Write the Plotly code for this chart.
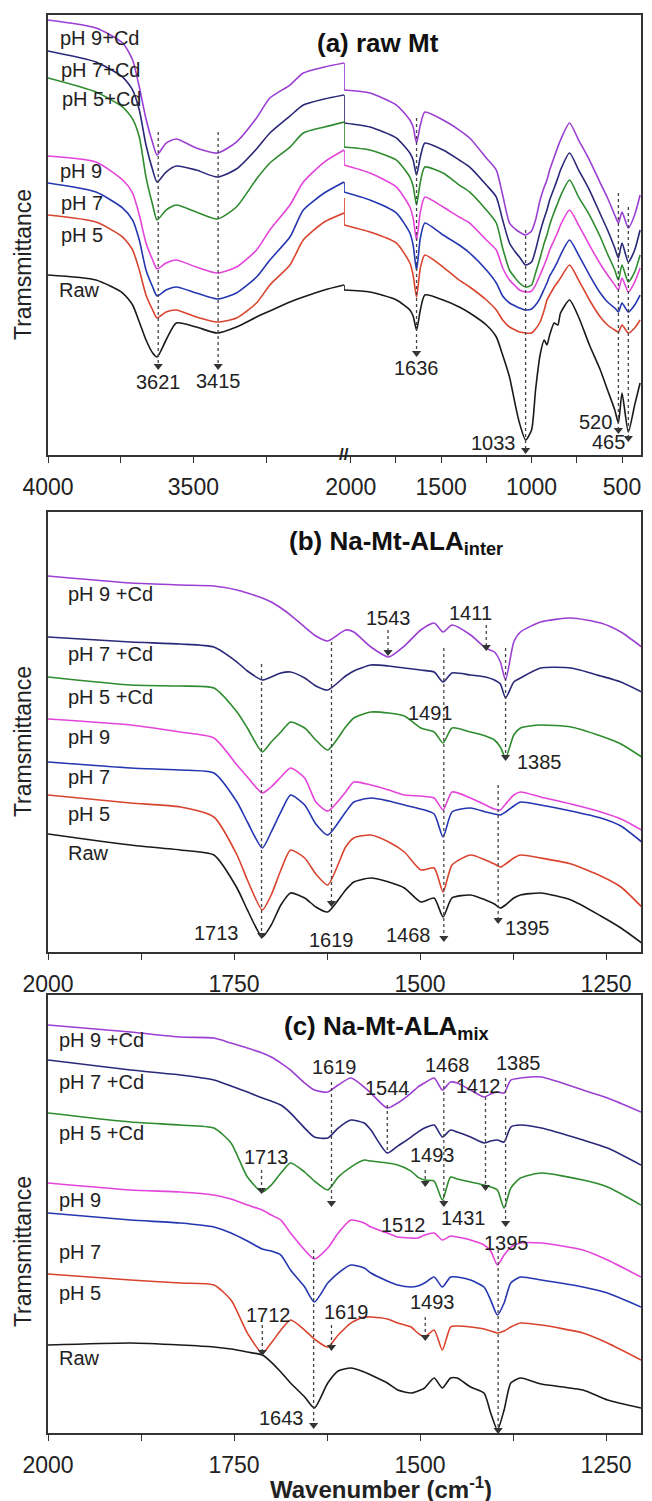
import plotly.graph_objects as go

FONT = "Liberation Sans, Arial, Helvetica, sans-serif"

series_a = ["pH 9+Cd", "pH 7+Cd", "pH 5+Cd", "pH 9", "pH 7", "pH 5", "Raw"]
series_bc = ["pH 9 +Cd", "pH 7 +Cd", "pH 5 +Cd", "pH 9", "pH 7", "pH 5", "Raw"]
colors = ["#9B3FD3", "#2A2878", "#2E8B2E", "#E444DA", "#2436B0", "#D9442F", "#1A1A1A"]

# ---------------- Panel (a) raw Mt : left segment 4000-2982 cm-1 ----------------
a_left_wn = [4000, 3835, 3743, 3709, 3686, 3663, 3640, 3625, 3594, 3559, 3490, 3418,
             3352, 3283, 3237, 3168, 3122, 3050, 2982]
a_left_ph9cd = [435, 427, 412, 395, 368, 336, 312, 300, 312, 316, 307, 302, 313, 337, 357, 370, 382, 388, 392]
a_left_ph7cd = [404, 393, 378, 365, 345, 310, 285, 273, 283, 289, 285, 278, 286, 306, 322, 339, 350, 356, 360]
a_left_ph5cd = [377, 363, 348, 336, 318, 278, 250, 235, 245, 250, 243, 236, 248, 276, 292, 308, 322, 328, 333]
a_left_ph9 = [299, 293, 275, 262, 240, 212, 195, 186, 192, 195, 188, 182, 188, 205, 225, 250, 273, 293, 305]
a_left_ph7 = [272, 263, 247, 235, 215, 185, 168, 159, 165, 168, 162, 156, 162, 178, 195, 218, 245, 262, 273]
a_left_ph5 = [240, 233, 218, 205, 185, 160, 145, 137, 143, 145, 138, 133, 137, 152, 170, 190, 215, 233, 242]
a_left_raw = [180, 175, 162, 150, 133, 115, 102, 98, 115, 132, 128, 122, 128, 138, 144, 153, 158, 165, 170]

# ---------------- Panel (a) right segment 2037-395 cm-1 ----------------
a_right_wn = [2037, 1894, 1747, 1673, 1655, 1636, 1615, 1590, 1489, 1400, 1342, 1250, 1195, 1160,
              1122, 1090, 1067, 1033, 1000, 978, 953, 930, 915, 900, 875, 855, 840, 790, 740,
              680, 620, 580, 540, 520, 500, 465, 430, 400]
a_right_ph9cd = [365, 362, 350, 335, 328, 312, 330, 343, 335, 325, 317, 297, 285, 260, 232, 226, 223, 220,
                 224, 235, 255, 268, 275, 285, 298, 308, 315, 332, 315, 295, 272, 257, 240, 232, 243, 227, 240, 260]
a_right_ph7cd = [332, 328, 317, 302, 295, 280, 298, 312, 305, 295, 288, 270, 258, 235, 212, 203, 198, 190,
                 193, 205, 223, 237, 245, 255, 267, 277, 285, 302, 285, 265, 241, 225, 207, 197, 212, 193, 205, 225]
a_right_ph5cd = [308, 305, 295, 278, 269, 250, 273, 288, 282, 270, 263, 245, 232, 207, 185, 177, 172, 168,
                 170, 182, 197, 212, 220, 230, 243, 252, 259, 275, 258, 240, 218, 201, 185, 175, 190, 173, 183, 200]
a_right_ph9 = [290, 282, 268, 248, 237, 215, 243, 258, 248, 238, 232, 215, 205, 187, 175, 169, 165, 163,
               164, 170, 180, 190, 197, 205, 215, 223, 230, 245, 230, 210, 191, 180, 170, 165, 177, 163, 173, 187]
a_right_ph7 = [263, 255, 242, 222, 210, 185, 217, 232, 220, 210, 202, 185, 172, 159, 152, 149, 147, 145,
               146, 150, 157, 166, 172, 179, 187, 194, 200, 215, 200, 180, 162, 153, 147, 143, 152, 143, 150, 160]
a_right_ph5 = [230, 223, 212, 192, 180, 158, 187, 200, 188, 175, 168, 155, 145, 135, 128, 125, 123, 122,
               122, 126, 133, 145, 155, 160, 168, 173, 177, 190, 175, 155, 138, 130, 125, 123, 130, 122, 127, 135]
a_right_raw = [165, 163, 155, 145, 139, 125, 145, 160, 155, 148, 142, 130, 118, 100, 78, 50, 32, 15,
               25, 65, 100, 115, 110, 120, 132, 130, 142, 155, 138, 110, 85, 65, 45, 32, 62, 23, 50, 72]
# highest point reached by each curve at the axis break (pH 5 shows a small spike)
a_break_peak = [392, 360, 333, 305, 273, 257, 170]

# ---------------- Panel (b) Na-Mt-ALA inter ----------------
b_wn = [2000, 1889, 1822, 1777, 1746, 1732, 1712, 1700, 1687, 1674, 1655, 1640, 1624, 1600, 1589,
        1566, 1542, 1521, 1499, 1481, 1469, 1457, 1432, 1412, 1400, 1392, 1385, 1374, 1365, 1338,
        1297, 1257, 1230, 1202]
b_ph9cd = [376, 369, 367, 366, 362, 359, 354, 350, 344, 337, 325, 316, 311, 322, 320, 305, 295, 306,
           322, 329, 320, 327, 317, 304, 300, 290, 272, 310, 320, 330, 334, 329, 320, 305]
b_ph7cd = [315, 310, 308, 305, 290, 281, 272, 275, 279, 280, 274, 266, 262, 276, 281, 287, 286, 284,
           282, 280, 270, 279, 277, 275, 272, 268, 254, 270, 274, 284, 284, 276, 270, 260]
b_ph5cd = [275, 267, 266, 264, 240, 224, 200, 210, 220, 230, 224, 212, 202, 225, 234, 240, 239, 236,
           224, 220, 209, 224, 220, 216, 212, 205, 194, 217, 224, 227, 225, 216, 208, 195]
b_ph9 = [233, 227, 220, 214, 187, 175, 159, 165, 175, 184, 174, 150, 141, 160, 170, 167, 162, 157,
         156, 154, 142, 160, 154, 147, 143, 142, 148, 157, 160, 155, 148, 140, 133, 122]
b_ph7 = [190, 184, 182, 179, 150, 130, 104, 120, 140, 157, 147, 128, 117, 140, 150, 154, 151, 147,
         143, 138, 115, 140, 144, 140, 138, 137, 140, 146, 150, 147, 141, 134, 126, 110]
b_ph5 = [157, 149, 145, 135, 97, 72, 42, 57, 82, 102, 94, 78, 67, 105, 114, 117, 110, 100,
         82, 84, 60, 87, 97, 92, 88, 85, 88, 94, 97, 94, 88, 76, 65, 45]
b_raw = [118, 107, 102, 97, 64, 42, 15, 27, 47, 59, 54, 45, 40, 62, 70, 74, 70, 64,
         50, 54, 35, 54, 57, 52, 48, 44, 47, 54, 57, 59, 52, 36, 24, 9]

# ---------------- Panel (c) Na-Mt-ALA mix ----------------
c_wn = [2000, 1889, 1822, 1777, 1754, 1732, 1712, 1700, 1687, 1674, 1655, 1642, 1624, 1610, 1593,
        1575, 1566, 1544, 1530, 1512, 1503, 1494, 1481, 1470, 1459, 1450, 1432, 1414, 1405, 1396,
        1387, 1378, 1365, 1337, 1281, 1248, 1203]
c_ph9cd = [408, 401, 396, 395, 390, 385, 380, 376, 370, 363, 350, 343, 341, 348, 355, 346, 340, 325,
           330, 340, 346, 350, 355, 343, 351, 350, 343, 336, 339, 341, 340, 353, 355, 356, 343, 335, 321]
c_ph7cd = [373, 363, 358, 353, 347, 341, 335, 332, 328, 320, 305, 296, 295, 305, 313, 310, 303, 280,
           287, 296, 301, 305, 308, 296, 303, 301, 296, 290, 292, 293, 291, 306, 308, 305, 293, 285, 268]
c_ph5cd = [320, 311, 308, 305, 290, 256, 241, 248, 260, 270, 261, 252, 243, 256, 266, 273, 272, 270,
           268, 262, 256, 253, 252, 233, 256, 254, 251, 248, 246, 243, 225, 245, 255, 260, 253, 246, 228]
c_ph9 = [250, 243, 241, 238, 234, 228, 223, 218, 213, 200, 183, 174, 185, 200, 213, 210, 206, 200,
         196, 195, 195, 198, 200, 193, 197, 196, 193, 188, 182, 168, 178, 186, 190, 190, 183, 173, 156]
c_ph7 = [220, 213, 210, 206, 200, 192, 184, 182, 178, 163, 146, 131, 150, 160, 168, 165, 160, 152,
         148, 146, 147, 150, 156, 146, 156, 156, 153, 146, 133, 118, 130, 150, 156, 153, 146, 140, 126]
c_ph5 = [159, 153, 150, 148, 133, 100, 80, 90, 103, 113, 103, 94, 86, 98, 110, 116, 116, 114,
         110, 106, 100, 96, 103, 83, 106, 107, 106, 104, 102, 100, 102, 106, 110, 108, 100, 90, 73]
c_raw = [88, 90, 88, 86, 84, 81, 78, 71, 61, 50, 36, 25, 50, 62, 65, 61, 58, 50,
         43, 40, 42, 45, 55, 45, 55, 55, 46, 40, 20, 3, 23, 50, 55, 49, 43, 33, 25]

# ---------------- Peak markers: (wavenumber, line top, arrow tip, show head) ----------------
a_left_marks = [(3621, 323, 89, True), (3415, 323, 89, True)]
a_right_marks = [(1636, 337, 102, True), (1033, 225, 5, True), (520, 262, 25, True), (465, 248, 17, True)]
b_marks = [(1713, 288, 17, True), (1619, 310, 49, True), (1468, 304, 14, True), (1395, 167, 32, True),
           (1385, 304, 195, True), (1543, 322, 300, True), (1411, 327, 305, True)]
c_marks = [(1619, 351, 230, True), (1544, 328, 281, False), (1468, 353, 230, True), (1412, 336, 246, True),
           (1385, 355, 210, True), (1493, 263, 250, True), (1713, 263, 243, True), (1395, 183, 3, True),
           (1643, 183, 8, True), (1712, 108, 81, True), (1619, 108, 86, True), (1493, 116, 96, True)]

# Peak labels: (text, wavenumber, transmittance, anchor)
a_left_labels = [("3621", 3621, 73, "center"), ("3415", 3415, 74, "center")]
a_right_labels = [("1636", 1636, 87, "center"), ("1033", 1077, 12, "right"),
                  ("520", 542, 33, "right"), ("465", 471, 13, "right")]
b_labels = [("1713", 1740, 19, "right"), ("1619", 1619, 12, "center"), ("1468", 1482, 17, "right"),
            ("1395", 1389, 24, "left"), ("1385", 1373, 190, "left"), ("1543", 1543, 334, "center"),
            ("1411", 1432, 339, "center"), ("1491", 1486, 239, "center")]
c_labels = [("1619", 1615, 366, "center"), ("1544", 1544, 345, "center"), ("1468", 1463, 368, "center"),
            ("1412", 1421, 347, "center"), ("1385", 1367, 370, "center"), ("1493", 1483, 278, "center"),
            ("1713", 1707, 276, "center"), ("1512", 1522, 208, "center"), ("1431", 1442, 215, "center"),
            ("1395", 1384, 190, "center"), ("1643", 1686, 15, "center"), ("1712", 1704, 118, "center"),
            ("1619", 1599, 121, "center"), ("1493", 1483, 131, "center")]

# Series name labels (wavenumber of left edge of text, transmittance)
a_name_wn = [3966, 3962, 3959, 3966, 3963, 3963, 3969]
a_name_t = [417, 385, 356, 284, 252, 220, 165]
b_name_wn = 1976
b_name_t = [358, 298, 255, 215, 175, 138, 99]
c_name_wn = 1988
c_name_t = [393, 351, 300, 233, 181, 140, 75]

a_left = [a_left_ph9cd, a_left_ph7cd, a_left_ph5cd, a_left_ph9, a_left_ph7, a_left_ph5, a_left_raw]
a_right = [a_right_ph9cd, a_right_ph7cd, a_right_ph5cd, a_right_ph9, a_right_ph7, a_right_ph5, a_right_raw]
b_all = [b_ph9cd, b_ph7cd, b_ph5cd, b_ph9, b_ph7, b_ph5, b_raw]
c_all = [c_ph9cd, c_ph7cd, c_ph5cd, c_ph9, c_ph7, c_ph5, c_raw]

fig = go.Figure()
LW = 1.6

def curve(x, y, color, xa, ya, shape="spline"):
    fig.add_trace(go.Scatter(x=x, y=y, mode="lines", xaxis=xa, yaxis=ya,
                             line=dict(color=color, width=LW, shape=shape, smoothing=0.6),
                             showlegend=False, hoverinfo="skip"))

for i, col in enumerate(colors):
    curve(a_left_wn, a_left[i], col, "x", "y")
    curve(a_right_wn, a_right[i], col, "x2", "y2")
    curve([a_right_wn[0]] * 3, [a_left[i][-1], a_break_peak[i], a_right[i][0]], col, "x2", "y2", "linear")
    curve(b_wn, b_all[i], col, "x3", "y3")
    curve(c_wn, c_all[i], col, "x4", "y4")

shapes = []
annotations = []
tip_groups = {}

def add_marks(marks, xa, ya):
    for wn, top, tip, head in marks:
        shapes.append(dict(type="line", xref=xa, yref=ya, x0=wn, x1=wn, y0=top, y1=tip,
                           line=dict(color="#444", width=1.3, dash="dot")))
        if head:
            tip_groups.setdefault((xa, ya), ([], []))
            tip_groups[(xa, ya)][0].append(wn)
            tip_groups[(xa, ya)][1].append(tip)

add_marks(a_left_marks, "x", "y")
add_marks(a_right_marks, "x2", "y2")
add_marks(b_marks, "x3", "y3")
add_marks(c_marks, "x4", "y4")

for (xa, ya), (xs, ys) in tip_groups.items():
    fig.add_trace(go.Scatter(x=xs, y=ys, mode="markers", xaxis=xa, yaxis=ya, cliponaxis=False,
                             marker=dict(symbol="triangle-down", size=8, color="#333"),
                             showlegend=False, hoverinfo="skip"))

def add_labels(labels, xa, ya):
    for text, wn, t, anchor in labels:
        annotations.append(dict(text=text, x=wn, y=t, xref=xa, yref=ya, showarrow=False,
                                xanchor=anchor, yanchor="middle",
                                font=dict(family=FONT, size=20, color="#222")))

add_labels(a_left_labels, "x", "y")
add_labels(a_right_labels, "x2", "y2")
add_labels(b_labels, "x3", "y3")
add_labels(c_labels, "x4", "y4")

for i, name in enumerate(series_a):
    annotations.append(dict(text=name, x=a_name_wn[i], y=a_name_t[i], xref="x", yref="y",
                            showarrow=False, xanchor="left", yanchor="middle",
                            font=dict(family=FONT, size=20, color="#222")))
for i, name in enumerate(series_bc):
    annotations.append(dict(text=name, x=b_name_wn, y=b_name_t[i], xref="x3", yref="y3",
                            showarrow=False, xanchor="left", yanchor="middle",
                            font=dict(family=FONT, size=20, color="#222")))
    annotations.append(dict(text=name, x=c_name_wn, y=c_name_t[i], xref="x4", yref="y4",
                            showarrow=False, xanchor="left", yanchor="middle",
                            font=dict(family=FONT, size=20, color="#222")))

# The page body adds an 8 px offset; figure coordinates below compensate for it.
# Panel titles
for text, xp, yp in [("<b>(a) raw Mt</b>", 0.5565, 0.9767),
                     ("<b>(b) Na-Mt-ALA<sub>inter</sub></b>", 0.5868, 0.6442),
                     ("<b>(c) Na-Mt-ALA<sub>mix</sub></b>", 0.570, 0.3205)]:
    annotations.append(dict(text=text, x=xp, y=yp, xref="paper", yref="paper", showarrow=False,
                            xanchor="center", yanchor="middle",
                            font=dict(family=FONT, size=26, color="#111")))

# y-axis titles
for yp in [0.8288, 0.5110, 0.1712]:
    annotations.append(dict(text="Tramsmittance", x=-0.042, y=yp, xref="paper", yref="paper",
                            showarrow=False, textangle=-90, xanchor="center", yanchor="middle",
                            font=dict(family=FONT, size=23, color="#222")))

# x-axis title
annotations.append(dict(text="<b>Wavenumber (cm<sup>-1</sup>)</b>", x=0.5615, y=0.0140,
                        xref="paper", yref="paper", showarrow=False, xanchor="center",
                        yanchor="middle", font=dict(family=FONT, size=24, color="#222")))

# axis break mark
annotations.append(dict(text="<b>//</b>", x=a_right_wn[0], y=0, xref="x2", yref="y2", showarrow=False,
                        xanchor="center", yanchor="middle",
                        font=dict(family=FONT, size=17, color="#222")))

AX = dict(showline=True, linecolor="#333", linewidth=1.5, showgrid=False, zeroline=False,
          ticks="outside", ticklen=6, tickwidth=1.3, tickcolor="#333",
          tickfont=dict(family=FONT, size=23, color="#222"), ticklabelstandoff=5)
YAX = dict(showline=True, linecolor="#333", linewidth=1.5, showgrid=False, zeroline=False,
           showticklabels=False, ticks="")

dom_a = [0.7022, 0.9953]
dom_b = [0.3711, 0.6642]
dom_c = [0.0506, 0.3424]
split = 0.4992

fig.update_layout(
    width=652, height=1501,
    margin=dict(l=40, r=19, t=0, b=0, pad=0),
    paper_bgcolor="white", plot_bgcolor="white",
    xaxis=dict(AX, domain=[0, split], range=[4000, 2982], anchor="y", mirror=True,
               tickvals=[4000, 3750, 3500, 3250], ticktext=["4000", " ", "3500", " "]),
    xaxis2=dict(AX, domain=[split, 1], range=[2037, 395], anchor="y2", mirror=True,
                tickvals=[2000, 1750, 1500, 1250, 1000, 750, 500],
                ticktext=["2000", " ", "1500", " ", "1000", " ", "500"]),
    yaxis=dict(YAX, domain=dom_a, range=[0, 440], anchor="x", side="left"),
    yaxis2=dict(YAX, domain=dom_a, range=[0, 440], anchor="x2", side="right"),
    xaxis3=dict(AX, domain=[0, 1], range=[2000, 1203], anchor="y3", mirror=True,
                tickvals=[2000, 1875, 1750, 1625, 1500, 1375, 1250],
                ticktext=["2000", " ", "1750", " ", "1500", " ", "1250"]),
    yaxis3=dict(YAX, domain=dom_b, range=[0, 440], anchor="x3", mirror=True),
    xaxis4=dict(AX, domain=[0, 1], range=[2000, 1203], anchor="y4", mirror=True,
                tickvals=[2000, 1875, 1750, 1625, 1500, 1375, 1250],
                ticktext=["2000", " ", "1750", " ", "1500", " ", "1250"]),
    yaxis4=dict(YAX, domain=dom_c, range=[0, 438], anchor="x4", mirror=True),
    shapes=shapes,
    annotations=annotations,
)

fig.write_html("out.html")
